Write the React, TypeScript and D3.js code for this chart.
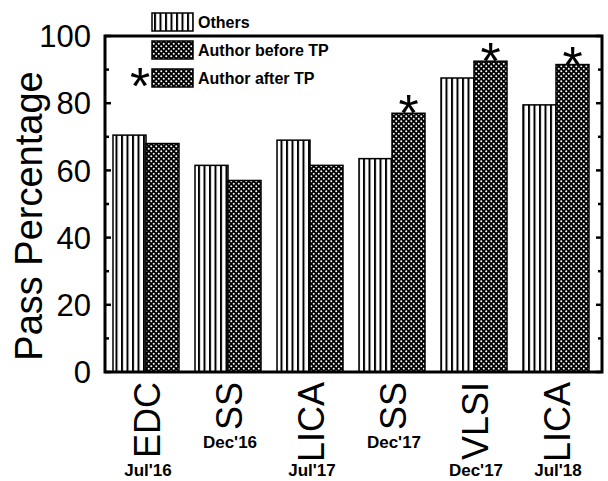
import { useEffect, useRef } from "react";
import * as d3 from "d3";

const categories = ["EDC", "SS", "LICA", "SS", "VLSI", "LICA"];
const sessions = ["Jul'16", "Dec'16", "Jul'17", "Dec'17", "Dec'17", "Jul'18"];
const others = [70.5, 61.5, 69, 63.5, 87.5, 79.5];
const author = [68, 57, 61.5, 77, 92.5, 91.5];
const afterTP = [false, false, false, true, true, true];
const legendLabels = ["Others", "Author before TP", "Author after TP"];
const yTicks = [0, 20, 40, 60, 80, 100];

const FONT = "'Liberation Sans', Arial, sans-serif";

export default function App() {
  const ref = useRef<SVGSVGElement>(null);

  useEffect(() => {
    const svg = d3.select(ref.current);
    svg.selectAll("*").remove();

    const left = 105, right = 602, top = 36, bottom = 372;

    const defs = svg.append("defs");
    const stripes = defs.append("pattern")
      .attr("id", "stripes")
      .attr("patternUnits", "userSpaceOnUse")
      .attr("width", 5.5).attr("height", 10);
    stripes.append("rect").attr("width", 5.5).attr("height", 10).attr("fill", "#fff");
    stripes.append("rect").attr("width", 2).attr("height", 10).attr("fill", "#000");

    const dots = defs.append("pattern")
      .attr("id", "dots")
      .attr("patternUnits", "userSpaceOnUse")
      .attr("width", 5).attr("height", 5);
    dots.append("rect").attr("width", 5).attr("height", 5).attr("fill", "#000");
    dots.append("circle").attr("cx", 1.25).attr("cy", 1.25).attr("r", 1).attr("fill", "#fff");
    dots.append("circle").attr("cx", 3.75).attr("cy", 3.75).attr("r", 1).attr("fill", "#fff");

    const idx = categories.map((_, i) => i);
    const x = d3.scaleBand<number>().domain(idx).range([left, 597]);
    const sub = d3.scaleBand<string>().domain(["others", "author"]).range([8, 74]);
    const y = d3.scaleLinear().domain([0, 100]).range([bottom, top]);

    const g = svg.append("g");

    // bars
    idx.forEach(i => {
      const x0 = x(i)!;
      g.append("rect")
        .attr("x", x0 + sub("others")!).attr("y", y(others[i]))
        .attr("width", sub.bandwidth()).attr("height", bottom - y(others[i]))
        .attr("fill", "url(#stripes)").attr("stroke", "#000").attr("stroke-width", 1.5);
      g.append("rect")
        .attr("x", x0 + sub("author")!).attr("y", y(author[i]))
        .attr("width", sub.bandwidth()).attr("height", bottom - y(author[i]))
        .attr("fill", "url(#dots)").attr("stroke", "#000").attr("stroke-width", 1.5);
      if (afterTP[i]) {
        g.append("text")
          .attr("x", x0 + sub("author")! + sub.bandwidth() / 2)
          .attr("y", y(author[i]) + 18)
          .attr("text-anchor", "middle")
          .attr("font-family", FONT).attr("font-size", 52)
          .text("*");
      }
    });

    // frame
    g.append("rect")
      .attr("x", left).attr("y", top)
      .attr("width", right - left).attr("height", bottom - top)
      .attr("fill", "none").attr("stroke", "#000").attr("stroke-width", 3);

    // ticks (inward, both sides)
    d3.range(0, 101, 10).forEach(v => {
      const len = v % 20 === 0 ? 6 : 4;
      g.append("line").attr("x1", left).attr("x2", left + len)
        .attr("y1", y(v)).attr("y2", y(v)).attr("stroke", "#000").attr("stroke-width", 2.5);
      g.append("line").attr("x1", right).attr("x2", right - len)
        .attr("y1", y(v)).attr("y2", y(v)).attr("stroke", "#000").attr("stroke-width", 2.5);
    });

    g.selectAll(".ytick").data(yTicks).join("text")
      .attr("x", 91).attr("y", d => y(d)).attr("dy", "0.36em")
      .attr("text-anchor", "end")
      .attr("font-family", FONT).attr("font-size", 31)
      .text(d => d);

    svg.append("text")
      .attr("transform", `translate(42,216) rotate(-90)`)
      .attr("text-anchor", "middle")
      .attr("font-family", FONT).attr("font-size", 38)
      .text("Pass Percentage");

    // category labels, session label just below each
    idx.forEach(i => {
      const cx = x(i)! + x.bandwidth() / 2 + 1;
      const t = svg.append("text")
        .attr("transform", `translate(${cx},382) rotate(-90)`)
        .attr("text-anchor", "end").attr("dy", "0.36em")
        .attr("font-family", FONT).attr("font-size", 36)
        .text(categories[i]);
      const len = (t.node() as SVGTextElement).getComputedTextLength();
      svg.append("text")
        .attr("x", cx + 1).attr("y", Math.min(382 + len + 18, 476))
        .attr("text-anchor", "middle")
        .attr("font-family", FONT).attr("font-size", 17).attr("font-weight", "bold")
        .text(sessions[i]);
    });

    // legend
    const lg = svg.append("g");
    legendLabels.forEach((lab, i) => {
      const ly = 13 + i * 28;
      lg.append("rect")
        .attr("x", 152).attr("y", ly).attr("width", 41).attr("height", 18)
        .attr("fill", i === 0 ? "url(#stripes)" : "url(#dots)")
        .attr("stroke", "#000").attr("stroke-width", 1.5);
      lg.append("text")
        .attr("x", 198).attr("y", ly + 9).attr("dy", "0.36em")
        .attr("font-family", FONT).attr("font-size", 16).attr("font-weight", "bold")
        .text(lab);
      if (i === 2) {
        lg.append("text")
          .attr("x", 140).attr("y", ly + 35)
          .attr("text-anchor", "middle")
          .attr("font-family", FONT).attr("font-size", 52)
          .text("*");
      }
    });
  }, []);

  return (
    <svg
      ref={ref}
      width={608}
      height={481}
      style={{ position: "absolute", left: 0, top: 0, background: "#fff" }}
    />
  );
}
